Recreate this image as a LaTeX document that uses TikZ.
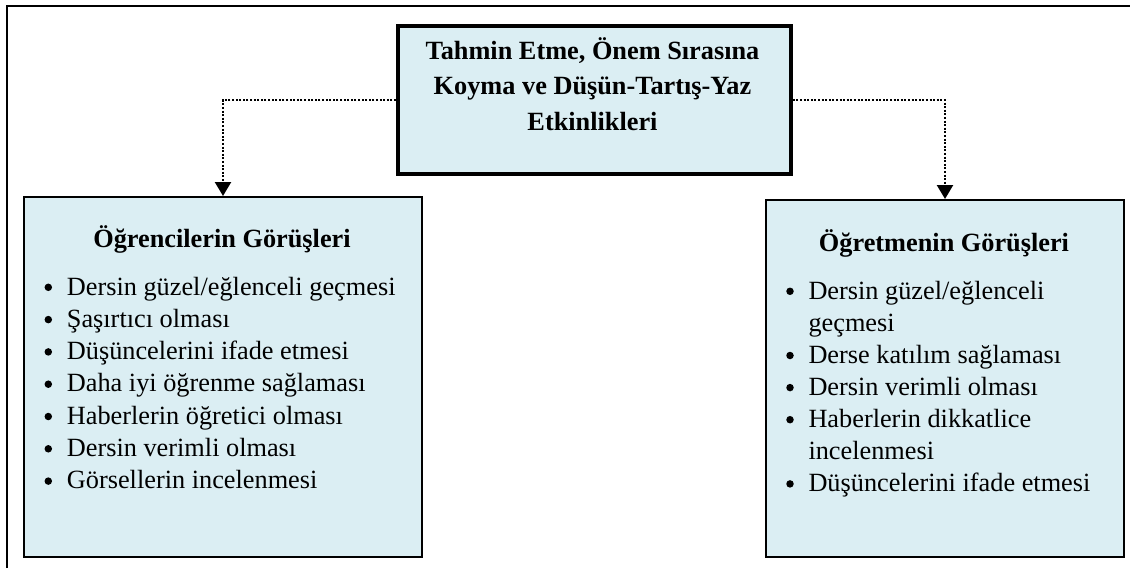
\documentclass[tikz,border=0pt]{standalone}
\usepackage{fontspec}
\setmainfont{Liberation Serif}
\usetikzlibrary{arrows.meta}
\definecolor{boxfill}{RGB}{219,238,243}
\begin{document}
\begin{tikzpicture}[x=1pt,y=-1pt,
  frame/.style={line width=2pt, draw=black},
  topbox/.style={draw=black, fill=boxfill, line width=3.8pt, inner sep=0pt, anchor=north west},
  listbox/.style={draw=black, fill=boxfill, line width=2pt, inner sep=0pt, anchor=north west},
  conn/.style={line width=2.4pt, dash pattern=on 2pt off 1.6pt, -{Triangle[length=14pt,width=16pt]}},
  txt/.style={font=\fontsize{26.3}{32}\selectfont, inner sep=0pt, anchor=base west},
  bul/.style={circle, fill=black, minimum size=7.5pt, inner sep=0pt},
  hdr/.style={font=\fontsize{26.3}{32}\selectfont\bfseries, inner sep=0pt, anchor=base}
]
\useasboundingbox (0,0) rectangle (1130,568);
\draw[frame] (6.5,568) -- (6.5,5.5) -- (1130,5.5);

% boxes
\node[topbox, minimum width=393pt, minimum height=148pt] (top) at (396,24) {};
\node[listbox, minimum width=398pt, minimum height=360pt] (lbox) at (23,196) {};
\node[listbox, minimum width=358pt, minimum height=357pt] (rbox) at (765,199) {};

% title
\node[hdr] (t1) at (592.5,59) {Tahmin Etme, Önem Sırasına};
\node[hdr] (t2) at (592.5,94) {Koyma ve Düşün-Tartış-Yaz};
\node[hdr] (t3) at (592.5,130) {Etkinlikleri};

% headers
\node[hdr] (lh) at (222,247) {Öğrencilerin Görüşleri};
\node[hdr] (rh) at (944,251) {Öğretmenin Görüşleri};

% left list
\foreach \t [count=\i from 0] in {{Dersin güzel/eğlenceli geçmesi}, Şaşırtıcı olması, Düşüncelerini ifade etmesi, Daha iyi öğrenme sağlaması, Haberlerin öğretici olması, Dersin verimli olması, Görsellerin incelenmesi} {
  \node[bul] (lb\i) at (48.3,287.3+32.3*\i) {};
  \node[txt] (lt\i) at (66.7,295+32.3*\i) {\t};
}

% right list
\foreach \t/\b [count=\i from 0] in {{Dersin güzel/eğlenceli}/1, {geçmesi}/0, {Derse katılım sağlaması}/1, {Dersin verimli olması}/1, {Haberlerin dikkatlice}/1, {incelenmesi}/0, {Düşüncelerini ifade etmesi}/1} {
  \ifnum\b=1
    \node[bul] (rb\i) at (790,291.3+32.1*\i) {};
  \fi
  \node[txt] (rt\i) at (808.3,299+32.1*\i) {\t};
}

% connectors
\draw[conn] (top.west) -| (lbox.north);
\draw[conn] (top.east) -| (rbox.north);
\end{tikzpicture}
\end{document}
